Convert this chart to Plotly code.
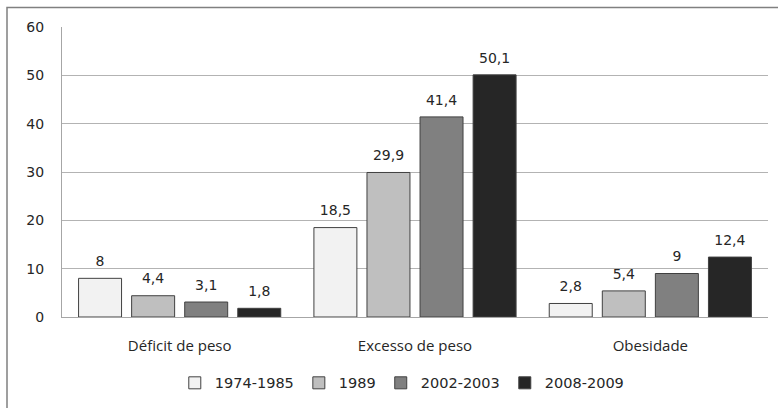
import plotly.graph_objects as go

categories = ["Déficit de peso", "Excesso de peso", "Obesidade"]
periods = ["1974-1985", "1989", "2002-2003", "2008-2009"]
values_1974_1985 = [8, 18.5, 2.8]
values_1989 = [4.4, 29.9, 5.4]
values_2002_2003 = [3.1, 41.4, 9]
values_2008_2009 = [1.8, 50.1, 12.4]
y_ticks = [0, 10, 20, 30, 40, 50, 60]

series = [values_1974_1985, values_1989, values_2002_2003, values_2008_2009]
fills = ["#f2f2f2", "#bfbfbf", "#808080", "#262626"]
LABEL_PAD = 1.3  # gap (in axis units) between a bar top and its value label


def fmt(v):
    return f"{v:g}".replace(".", ",")


fig = go.Figure()
for i, (name, vals, color) in enumerate(zip(periods, series, fills)):
    fig.add_trace(go.Bar(
        name=name,
        x=categories,
        y=vals,
        offsetgroup=str(i),
        marker=dict(color=color, line=dict(color="#404040", width=1)),
    ))
    # transparent spacer sitting on each bar, carrying the value label
    fig.add_trace(go.Bar(
        x=categories,
        y=[LABEL_PAD] * len(vals),
        base=vals,
        offsetgroup=str(i),
        showlegend=False,
        hoverinfo="skip",
        marker=dict(color="rgba(0,0,0,0)", line=dict(width=0)),
        text=[fmt(v) for v in vals],
        textposition="outside",
        textfont=dict(family="DejaVu Sans", size=14, color="#262626"),
        cliponaxis=False,
    ))

fig.update_layout(
    width=778,
    height=408,
    margin=dict(l=62, r=10, t=27, b=90),
    paper_bgcolor="white",
    plot_bgcolor="white",
    barmode="group",
    bargap=0.098,
    bargroupgap=0.19,
    showlegend=True,
    legend=dict(
        orientation="h",
        x=0.482, xanchor="center",
        y=-0.223, yanchor="middle",
        font=dict(family="DejaVu Sans", size=14.5, color="#262626"),
        itemwidth=30,
    ),
    xaxis=dict(
        showgrid=False,
        showline=True,
        linecolor="#a6a6a6",
        ticks="outside",
        ticklen=15,
        tickcolor="rgba(0,0,0,0)",
        tickfont=dict(family="Open Sans", size=15, color="#262626"),
    ),
    yaxis=dict(
        range=[0, 60],
        tickvals=y_ticks,
        showgrid=True,
        gridcolor="#b3b3b3",
        zeroline=False,
        showline=True,
        linecolor="#a6a6a6",
        ticks="outside",
        ticklen=14,
        tickcolor="rgba(0,0,0,0)",
        tickfont=dict(family="DejaVu Sans", size=14, color="#262626"),
    ),
    shapes=[dict(
        type="rect", xref="paper", yref="paper",
        x0=-55 / 706, x1=1.03, y0=-0.34, y1=1.067,
        line=dict(color="#808080", width=1.5),
        fillcolor="rgba(0,0,0,0)",
    )],
)

fig.write_html("out.html")
